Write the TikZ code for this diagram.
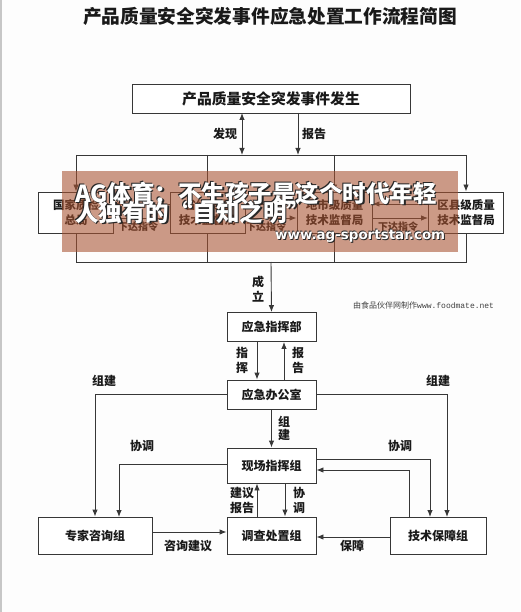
\documentclass[tikz,border=0pt]{standalone}
\usepackage{fontspec}
\usepackage{graphicx}
\setmainfont{Noto Sans CJK SC}
\newfontfamily\monof{Liberation Mono}
\newfontfamily\urlf{DejaVu Sans}
\usetikzlibrary{arrows.meta}
\definecolor{ln}{RGB}{55,55,55}
\definecolor{tx}{RGB}{25,25,25}
\definecolor{wm}{RGB}{168,82,48}
\definecolor{bg}{RGB}{253,253,253}
\tikzset{
  box/.style={draw=ln, line width=0.9pt, fill=white, inner sep=0pt, text=tx,
    minimum width=89pt, minimum height=29pt, font=\fontsize{12}{14}\selectfont\bfseries, align=center},
  midbox/.style={box, minimum width=75pt, minimum height=41pt, font=\fontsize{11.5}{15}\selectfont\bfseries},
  arr/.style={-{Latex[length=7pt,width=5.5pt]}, draw=ln, line width=0.9pt},
  darr/.style={{Latex[length=7pt,width=5.5pt]}-{Latex[length=7pt,width=5.5pt]}, draw=ln, line width=0.9pt},
  lnk/.style={draw=ln, line width=0.9pt},
  lbl/.style={font=\fontsize{12}{15}\selectfont\bfseries, inner sep=0pt, text=tx, align=center},
  slbl/.style={font=\fontsize{10}{12}\selectfont\bfseries, inner sep=0pt, text=tx},
  wmtxt/.style={font=\fontsize{23.5}{20}\selectfont\bfseries, inner sep=0pt, anchor=west}
}
\begin{document}
\begin{tikzpicture}[x=1pt,y=-1pt]
\fill[bg] (0,0) rectangle (520,612);
\useasboundingbox (0,0) rectangle (520,612);
\draw[black!22, line width=2pt] (1,0) -- (1,612);

\node[font=\fontsize{18.7}{20}\selectfont\bfseries, text=tx, inner sep=0pt] (title) at (270,16) {产品质量安全突发事件应急处置工作流程简图};

% top box
\node[box, minimum width=278pt, minimum height=29pt, font=\fontsize{14.8}{16}\selectfont\bfseries] (top) at (271,98.5) {产品质量安全突发事件发生};

% top bus
\coordinate (tb) at (271,155);
\coordinate (fx1) at (242,113);
\coordinate (fx2) at (242,155);
\coordinate (bg1) at (298,113);
\coordinate (bg2) at (298,155);
\draw[darr] (fx1) -- (fx2);
\draw[arr] (bg1) -- (bg2);
\node[lbl] (lfx) at (225,134) {发现};
\node[lbl] (lbg) at (314,134) {报告};

% middle row
\node[midbox] (A) at (76,212.5) {国家质检\\总局};
\node[midbox] (B) at (207.5,212.5) {省级质量\\技术监督局};
\node[midbox] (C) at (334.5,212.5) {地市级质量\\技术监督局};
\node[midbox] (D) at (466,212.5) {区县级质量\\技术监督局};

\draw[lnk] (A.north |- tb) -- (D.north |- tb);
\draw[arr] (A.north |- tb) -- (A.north);
\draw[arr] (B.north |- tb) -- (B.north);
\draw[arr] (C.north |- tb) -- (C.north);
\draw[arr] (D.north |- tb) -- (D.north);

\foreach \l/\r in {A/B, B/C, C/D}{
  \draw[arr] ([yshift=8.5pt]\r.west) -- ([yshift=8.5pt]\l.east);
  \draw[arr] ([yshift=-5.5pt]\l.east) -- ([yshift=-5.5pt]\r.west);
}
\node[slbl] (x1) at (138,227) {下达指令};
\node[slbl] (x2) at (266,227) {下达指令};
\node[slbl] (x3) at (398,227) {下达指令};

% bottom bus
\coordinate (bb) at (271,262);
\draw[lnk] (A.south) -- (A.south |- bb) -- (D.south |- bb) -- (D.south);
\draw[lnk] (B.south) -- (B.south |- bb);
\draw[lnk] (C.south) -- (C.south |- bb);

% command chain
\node[box] (zhb) at (271.5,327) {应急指挥部};
\node[box] (bgs) at (271.5,394.5) {应急办公室};
\node[box, minimum height=35pt] (xc) at (271.5,465.5) {现场指挥组};
\node[box, minimum width=114pt, minimum height=37pt] (zj) at (95,535.5) {专家咨询组};
\node[box, minimum height=37pt] (dc) at (271.5,535.5) {调查处置组};
\node[box, minimum width=96pt, minimum height=37pt] (js) at (438,535.5) {技术保障组};

\draw[arr] (bb) -- (zhb.north);
\node[lbl] (lcl) at (258,289) {成\\立};

\draw[arr] ([xshift=-14.5pt]zhb.south) -- ([xshift=-14.5pt]bgs.north);
\draw[arr] ([xshift=12.5pt]bgs.north) -- ([xshift=12.5pt]zhb.south);
\node[lbl] (lzh) at (242,360.5) {指\\挥};
\node[lbl] (lbg2) at (298,360.5) {报\\告};

% 组建
\draw[arr] (bgs.west) -| (zj.north);
\coordinate (jsr) at (447,517);
\draw[arr] (bgs.east) -| (jsr);
\node[lbl] (lzj1) at (104,381) {组建};
\node[lbl] (lzj2) at (438,381) {组建};
\draw[arr] (bgs.south) -- (xc.north);
\node[lbl, font=\fontsize{12}{13}\selectfont\bfseries] (lzj3) at (284,428.5) {组\\建};

% 协调
\coordinate (zjc) at (119,517);
\draw[arr] ([yshift=1.5pt]xc.west) -| (zjc);
\coordinate (jsc) at (430,517);
\draw[arr] ([yshift=6.5pt]xc.east) -| (jsc);
\coordinate (jsu) at (409,517);
\draw[arr] (jsu) |- ([yshift=-4.5pt]xc.east);
\node[lbl] (lxt1) at (142,446) {协调};
\node[lbl] (lxt2) at (400,446) {协调};

\draw[arr] ([xshift=-14.5pt]dc.north) -- ([xshift=-14.5pt]xc.south);
\draw[arr] ([xshift=13.5pt]xc.south) -- ([xshift=13.5pt]dc.north);
\node[lbl] (ljy) at (242,500.5) {建议\\报告};
\node[lbl] (lxt3) at (299,500.5) {协\\调};

\draw[arr] ([yshift=3.5pt]zj.east) -- ([yshift=3.5pt]zj.east -| dc.west);
\draw[arr] ([yshift=-1.5pt]js.west) -- ([yshift=-1.5pt]js.west -| dc.east);
\node[lbl] (lzx) at (188,546) {咨询建议};
\node[lbl] (lbz) at (352,546) {保障};

\node[inner sep=0pt, text=black!75, anchor=west] (credit) at (353,305) {\fontsize{8}{9}\selectfont 由食品伙伴网制作\monof www.foodmate.net};

% watermark overlay
\node[fill=wm, fill opacity=0.58, minimum width=396pt, minimum height=81pt, inner sep=0pt] (wmbox) at (260,211.5) {};
\foreach \dx/\dy [count=\i] in {1.4/1.4, -0.7/-0.7}{
  \node[wmtxt, text=black!85] (wsa\i) at ({75+\dx},{193+\dy}) {AG体育：不生孩子是这个时代年轻};
  \node[wmtxt, text=black!85] (wsb\i) at ({75+\dx},{212+\dy}) {人独有的“自知之明”};
  \node[inner sep=0pt, anchor=west, text=black!85] (wsc\i) at ({275+0.6*\dx},{236+0.6*\dy}) {\resizebox{170pt}{!}{\urlf\bfseries www.ag-sportstar.com}};
}
\node[wmtxt, text=white] (wa) at (75,193) {AG体育：不生孩子是这个时代年轻};
\node[wmtxt, text=white] (wb) at (75,212) {人独有的“自知之明”};
\node[inner sep=0pt, anchor=west, text=white] (wc) at (275,236) {\resizebox{170pt}{!}{\urlf\bfseries www.ag-sportstar.com}};
\end{tikzpicture}
\end{document}
